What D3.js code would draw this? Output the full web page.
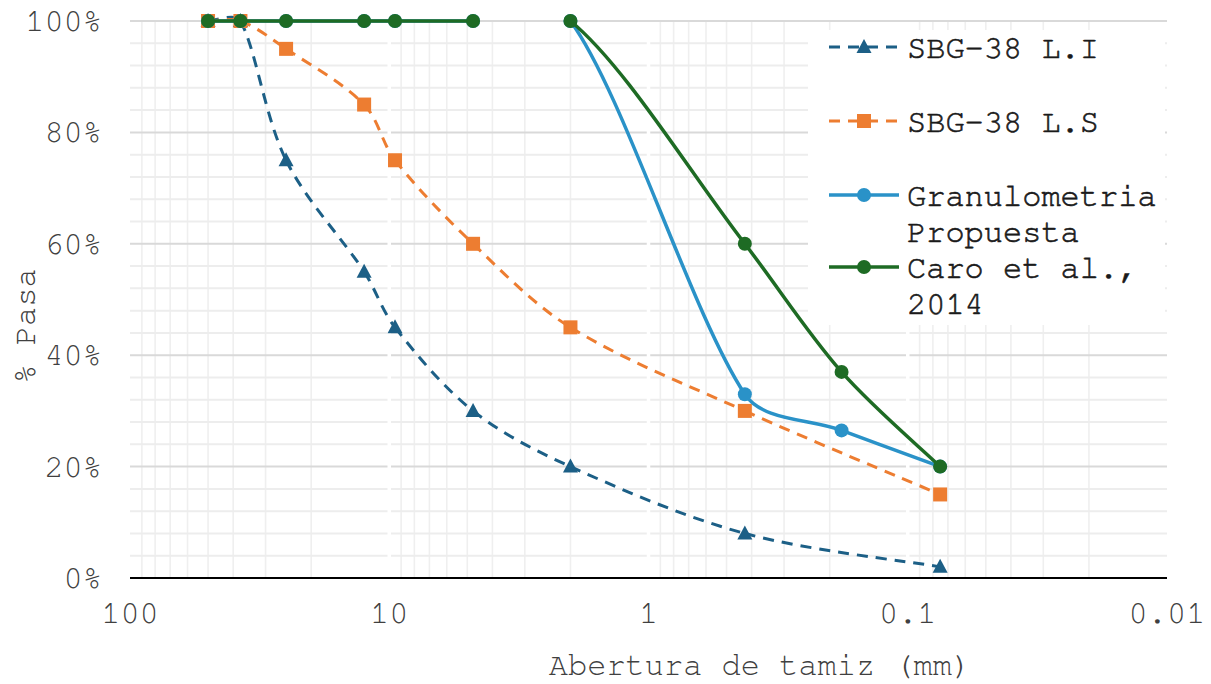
<!DOCTYPE html>
<html>
<head>
<meta charset="utf-8">
<script src="https://cdn.jsdelivr.net/npm/d3@7"></script>
<style>
  body { margin: 0; background: #fff; }
  text { font-family: "FreeMono", "Nimbus Mono PS", "Nimbus Mono L", "Courier New", "Courier", "Liberation Mono", monospace; }
</style>
</head>
<body>
<svg id="chart"></svg>
<script>
// sieve openings (mm) and % passing
const sieves = [50, 37.5, 25, 12.5, 9.5, 4.75, 2, 0.425, 0.18, 0.075];
const sbgLI = [100, 100, 75, 55, 45, 30, 20, 8, null, 2];
const sbgLS = [100, 100, 95, 85, 75, 60, 45, 30, null, 15];
const propuesta = [100, 100, 100, 100, 100, 100, 100, 33, 26.5, 20];
const caro = [100, 100, 100, 100, 100, 100, 100, 60, 37, 20];
const xTicks = [100, 10, 1, 0.1, 0.01];
const yTicks = [0, 20, 40, 60, 80, 100];
// segment starting at this sieve is not drawn (line formatting gap in original)
const hiddenFrom = 4.75;

const width = 1211, height = 684;
const margin = { top: 21, right: 44, bottom: 106, left: 130 };

const svg = d3.select("#chart").attr("width", width).attr("height", height);

const x = d3.scaleLog()
  .domain([100, 0.01])
  .range([margin.left, width - margin.right]);
const y = d3.scaleLinear()
  .domain([0, 100])
  .range([height - margin.bottom, margin.top]);

const grid = svg.append("g");

// minor vertical gridlines (log)
const minorX = [];
[10, 1, 0.1, 0.01].forEach(d => { for (let k = 2; k <= 9; k++) minorX.push(d * k); });
grid.selectAll(".vx").data(minorX).enter().append("line")
  .attr("x1", d => x(d)).attr("x2", d => x(d))
  .attr("y1", y(100)).attr("y2", y(0))
  .attr("stroke", "#efefef").attr("stroke-width", 1.6);

// horizontal gridlines
grid.selectAll(".hy").data(d3.range(0, 101, 4).filter(v => v % 20 !== 0)).enter().append("line")
  .attr("x1", x(100)).attr("x2", x(0.01))
  .attr("y1", d => y(d)).attr("y2", d => y(d))
  .attr("stroke", "#ededed").attr("stroke-width", 2);
grid.selectAll(".hmaj").data(yTicks.filter(v => v > 0)).enter().append("line")
  .attr("x1", x(100)).attr("x2", x(0.01))
  .attr("y1", d => y(d)).attr("y2", d => y(d))
  .attr("stroke", "#d9d9d9").attr("stroke-width", 2);
// decade gridlines (white)
grid.selectAll(".vmaj").data([10, 1, 0.1]).enter().append("line")
  .attr("x1", d => x(d)).attr("x2", d => x(d))
  .attr("y1", y(100) + 2).attr("y2", y(0) - 2)
  .attr("stroke", "#ffffff").attr("stroke-width", 3.5);

// x axis line
svg.append("line")
  .attr("x1", x(100)).attr("x2", x(0.01))
  .attr("y1", y(0)).attr("y2", y(0))
  .attr("stroke", "#000").attr("stroke-width", 2);

// tick labels
svg.selectAll(".xt").data(xTicks).enter().append("text")
  .attr("x", d => x(d)).attr("y", y(0) + 45)
  .attr("text-anchor", "middle")
  .attr("font-size", 32).attr("fill", "#404040")
  .text(d => d3.format("~g")(d));
svg.selectAll(".yt").data(yTicks).enter().append("text")
  .attr("x", 102).attr("y", d => y(d) + 10)
  .attr("text-anchor", "end")
  .attr("font-size", 32).attr("fill", "#404040")
  .text(d => d + "%");

// axis titles
svg.append("text")
  .attr("x", 760).attr("y", 675)
  .attr("text-anchor", "middle")
  .attr("font-size", 32).attr("fill", "#404040")
  .text("Abertura de tamiz (mm)");
svg.append("text")
  .attr("transform", "translate(35,326) rotate(-90)")
  .attr("text-anchor", "middle")
  .attr("font-size", 32).attr("fill", "#404040")
  .text("% Pasa");

const series = [
  { name: ["SBG-38 L.I"], values: sbgLI, color: "#1c5f86", dash: "11,8", marker: "triangle", hidden: null },
  { name: ["SBG-38 L.S"], values: sbgLS, color: "#ed7d31", dash: "11,8", marker: "square", hidden: null },
  { name: ["Granulometria", "Propuesta"], values: propuesta, color: "#2a92c8", dash: null, marker: "circle", hidden: hiddenFrom },
  { name: ["Caro et al.,", "2014"], values: caro, color: "#1e6b24", dash: null, marker: "circle", hidden: hiddenFrom }
];

// smoothed segments, tangents weighted by chord length (like spreadsheet smoothing)
function segments(pts, hidden) {
  const out = [];
  const dist = (a, b) => Math.hypot(b.x - a.x, b.y - a.y);
  for (let i = 0; i < pts.length - 1; i++) {
    if (hidden !== null && pts[i].s === hidden) continue;
    const p1 = pts[i], p2 = pts[i + 1];
    const p0 = pts[i - 1] || p1, p3 = pts[i + 2] || p2;
    const d01 = dist(p0, p1), d12 = dist(p1, p2), d23 = dist(p2, p3);
    const f1 = Math.min(1 / 5, d12 / (3 * (d01 + d12)));
    const f2 = Math.min(1 / 5, d12 / (3 * (d12 + d23)));
    const c1 = [p1.x + f1 * (p2.x - p0.x), p1.y + f1 * (p2.y - p0.y)];
    const c2 = [p2.x - f2 * (p3.x - p1.x), p2.y - f2 * (p3.y - p1.y)];
    const p = d3.path();
    p.moveTo(p1.x, p1.y);
    p.bezierCurveTo(c1[0], c1[1], c2[0], c2[1], p2.x, p2.y);
    out.push(p.toString());
  }
  return out;
}

function drawMarker(g, type, cx, cy, color) {
  if (type === "circle") {
    g.append("circle").attr("cx", cx).attr("cy", cy).attr("r", 7).attr("fill", color);
  } else if (type === "square") {
    g.append("rect").attr("x", cx - 7).attr("y", cy - 7).attr("width", 14).attr("height", 14).attr("fill", color);
  } else {
    g.append("path").attr("d", `M${cx},${cy - 8}L${cx + 7.5},${cy + 6}L${cx - 7.5},${cy + 6}Z`).attr("fill", color);
  }
}

series.forEach(s => {
  const g = svg.append("g");
  const pts = sieves.map((sv, i) => ({ s: sv, v: s.values[i] }))
    .filter(d => d.v !== null)
    .map(d => ({ s: d.s, x: x(d.s), y: y(d.v) }));
  g.selectAll("path.seg").data(segments(pts, s.hidden)).enter().append("path")
    .attr("d", d => d)
    .attr("fill", "none")
    .attr("stroke", s.color)
    .attr("stroke-width", s.dash ? 3 : 3.5)
    .attr("stroke-dasharray", s.dash);
  pts.forEach(p => drawMarker(g, s.marker, p.x, p.y, s.color));
});

// legend
const legend = svg.append("g");
legend.append("rect")
  .attr("x", 808).attr("y", 30).attr("width", 357).attr("height", 295)
  .attr("fill", "#fff");
const legendY = [47, 121, 195, 267];
series.forEach((s, i) => {
  const ly = legendY[i];
  legend.append("line")
    .attr("x1", 829).attr("x2", 899)
    .attr("y1", ly).attr("y2", ly)
    .attr("stroke", s.color)
    .attr("stroke-width", s.dash ? 3 : 3.5)
    .attr("stroke-dasharray", s.dash);
  drawMarker(legend, s.marker, 864, ly, s.color);
  s.name.forEach((t, j) => {
    legend.append("text")
      .attr("x", 907).attr("y", ly + 11 + j * 36)
      .attr("font-size", 32).attr("fill", "#1a1a1a")
      .attr("stroke", "#1a1a1a").attr("stroke-width", 0.6)
      .text(t);
  });
});
</script>
</body>
</html>
